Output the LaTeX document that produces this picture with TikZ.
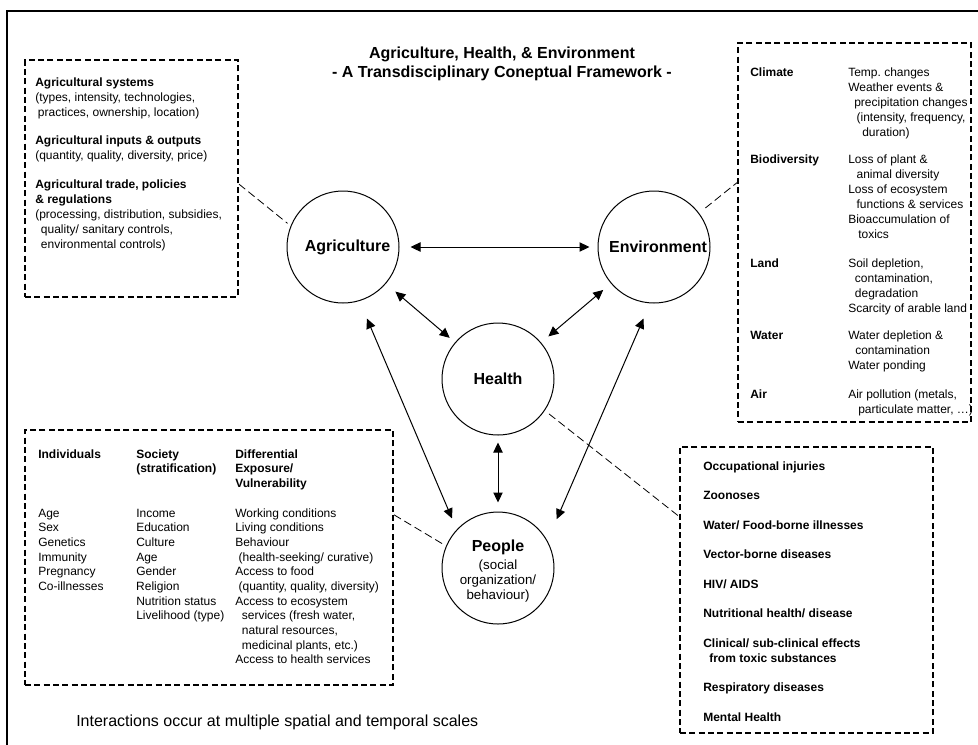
\documentclass[tikz,border=0pt]{standalone}
\usepackage{fontspec}
\setmainfont{Liberation Sans}
\usetikzlibrary{arrows.meta}
\newcommand{\labA}[1]{\makebox[73.5pt][l]{\textbf{#1}}}
\newcommand{\ind}[1]{\hspace*{#1}}
\begin{document}
\begin{tikzpicture}[x=0.75pt,y=-0.75pt,
  circ/.style={circle, draw, line width=0.75pt, minimum size=84pt, inner sep=0pt,
    font=\fontsize{12}{14}\selectfont\bfseries},
  dbox/.style={draw, line width=1.5pt, dash pattern=on 4.5pt off 2.5pt, inner sep=0pt},
  conn/.style={line width=0.6pt, dash pattern=on 6pt off 3pt},
  arr/.style={line width=0.75pt, {Triangle[length=7.5pt,width=7pt]}-{Triangle[length=7.5pt,width=7pt]}},
  txt/.style={anchor=base west, inner sep=0pt, font=\fontsize{9}{11.25}\selectfont},
  txtb/.style={anchor=base west, inner sep=0pt, font=\fontsize{9}{11}\selectfont}
]
\useasboundingbox (0,0) rectangle (978,744);
\clip (0,0) rectangle (978,744);
% outer frame (right and bottom edges lie outside the picture)
\draw[line width=1.5pt] (7,10.5) rectangle (1000,800);

% title
\node[anchor=base, inner sep=0pt, font=\fontsize{12}{14.25}\selectfont\bfseries] (title) at (502,58)
  {\begin{tabular}[t]{@{}c@{}}Agriculture, Health, \& Environment\\- A Transdisciplinary Coneptual Framework -\end{tabular}};

% circles
\node[circ] (agri) at (343,247) {\hspace*{6.75pt}Agriculture};
\node[circ] (env) at (654,247) {\hspace*{6pt}Environment};
\node[circ] (health) at (498,379) {Health};
\node[circ, font=\fontsize{10}{11.25}\selectfont] (people) at (498,568)
  {\begin{tabular}{@{}c@{}}\rule{0pt}{14pt}\fontsize{12}{14}\selectfont\bfseries People\\[2.25pt](social\\organization/\\behaviour)\end{tabular}};

% arrows
\draw[arr, shorten <=8.25pt, shorten >=6pt] (agri) -- (env);
\draw[arr, shorten <=9.2pt, shorten >=5.2pt] (agri) -- (health);
\draw[arr, shorten <=7.5pt, shorten >=7.1pt] (env) -- (health);
\draw[arr, shorten <=5.25pt, shorten >=6.75pt] (health) -- (people);
\draw[arr, shorten <=14.25pt, shorten >=9pt] (agri.-73) -- (people.137.5);
\draw[arr, shorten <=12.4pt, shorten >=17.5pt] (env.-94.5) -- (people.29.5);

% dashed boxes
\node[dbox, minimum width=159.75pt, minimum height=177.75pt] (tlbox) at (131.5,178.5) {};
\node[dbox, minimum width=174.75pt, minimum height=284.25pt] (envbox) at (854.5,232.5) {};
\node[dbox, minimum width=276pt, minimum height=191.25pt] (blbox) at (209,557.5) {};
\node[dbox, minimum width=189.75pt, minimum height=214.5pt] (hbox) at (806.5,590) {};

% dashed connectors
\draw[conn, shorten >=3pt] (tlbox.-3) -- (agri.158);
\draw[conn, shorten <=6pt] (env.37) -- (envbox.157.4);
\draw[conn, shorten >=2.7pt] (blbox.13.6) -- (people.157);
\draw[conn, shorten <=4pt] (health.-34) -- (hbox.150.35);

% top-left box text
\node[txt] (tltext) at (35,86) {\begin{tabular}[t]{@{}l@{}}
\textbf{Agricultural systems}\\
(types, intensity, technologies,\\
\ind{2pt}practices, ownership, location)\\[9.75pt]
\textbf{Agricultural inputs \& outputs}\\
(quantity, quality, diversity, price)\\[10.5pt]
\textbf{Agricultural trade, policies}\\
\textbf{\& regulations}\\
(processing, distribution, subsidies,\\
\ind{4.25pt}quality/ sanitary controls,\\
\ind{4.25pt}environmental controls)
\end{tabular}};

% environment box text
\node[txt] (envtext) at (750,76) {\begin{tabular}[t]{@{}l@{}l@{}}
\labA{Climate} & Temp.\ changes\\
 & Weather events \&\\
 & \ind{4.5pt}precipitation changes\\
 & \ind{6.25pt}(intensity, frequency,\\
 & \ind{10.5pt}duration)\\[9pt]
\labA{Biodiversity} & Loss of plant \&\\
 & \ind{6.25pt}animal diversity\\
 & Loss of ecosystem\\
 & \ind{6.25pt}functions \& services\\
 & Bioaccumulation of\\
 & \ind{7.5pt}toxics\\[10.5pt]
\labA{Land} & Soil depletion,\\
 & \ind{5pt}contamination,\\
 & \ind{5pt}degradation\\
 & Scarcity of arable land\\[9pt]
\labA{Water} & Water depletion \&\\
 & \ind{5.25pt}contamination\\
 & Water ponding\\[10.5pt]
\labA{Air} & Air pollution (metals,\\
 & \ind{7.5pt}particulate matter, …)
\end{tabular}};

% bottom-left box text
\node[txtb] (bltext) at (38,458) {\begin{tabular}[t]{@{}l@{}l@{}l@{}}
\labA{Individuals} & \makebox[74.25pt][l]{\textbf{Society}} & \textbf{Differential}\\
 & \textbf{(stratification)} & \textbf{Exposure/}\\
 & & \textbf{Vulnerability}\\[11.25pt]
Age & Income & Working conditions\\
Sex & Education & Living conditions\\
Genetics & Culture & Behaviour\\
Immunity & Age & \ind{2.5pt}(health-seeking/ curative)\\
Pregnancy & Gender & Access to food\\
Co-illnesses & Religion & \ind{2.5pt}(quantity, quality, diversity)\\
 & Nutrition status & Access to ecosystem\\
 & Livelihood (type) & \ind{5pt}services (fresh water,\\
 & & \ind{5pt}natural resources,\\
 & & \ind{5pt}medicinal plants, etc.)\\
 & & Access to health services
\end{tabular}};

% health outcomes box text
\node[txt, font=\fontsize{9}{11.25}\selectfont\bfseries] (htext) at (703,470) {\begin{tabular}[t]{@{}l@{}}
Occupational injuries\\[10.9pt]
Zoonoses\\[10.9pt]
Water/ Food-borne illnesses\\[10.9pt]
Vector-borne diseases\\[10.9pt]
HIV/ AIDS\\[10.9pt]
Nutritional health/ disease\\[10.9pt]
Clinical/ sub-clinical effects\\
\ind{4.5pt}from toxic substances\\[10.9pt]
Respiratory diseases\\[10.9pt]
Mental Health
\end{tabular}};

% bottom note
\node[anchor=base west, inner sep=0pt, font=\fontsize{12}{14}\selectfont] (note) at (76,726)
  {Interactions occur at multiple spatial and temporal scales};
\end{tikzpicture}
\end{document}
